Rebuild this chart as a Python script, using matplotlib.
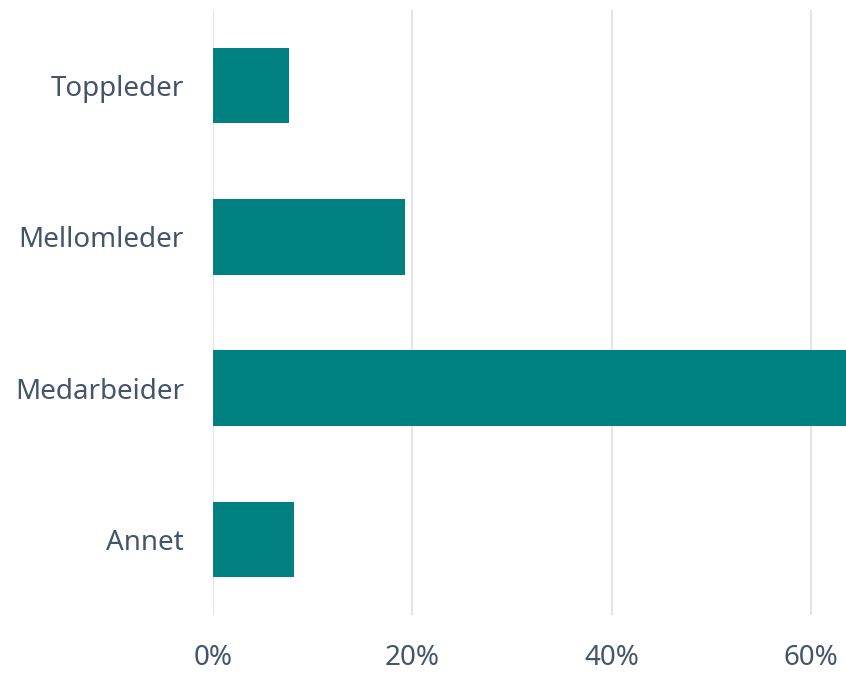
import matplotlib
matplotlib.use("Agg")
import matplotlib.pyplot as plt
from matplotlib.ticker import PercentFormatter

# data
categories = ["Toppleder", "Mellomleder", "Medarbeider", "Annet"]
shares = [7.6, 19.3, 65.0, 8.1]
x_ticks = [0, 20, 40, 60]

TEAL = "#008080"
TEXT = "#44546A"
GRID = "#E1E5EB"

plt.rcParams["font.family"] = ["Noto Sans", "DejaVu Sans"]

fig = plt.figure(figsize=(8.46, 6.73), dpi=100)
W, H = 846, 673
ax = fig.add_axes([213 / W, (H - 615) / H, 1 - 213 / W, 605 / H])

ypos = list(range(len(categories)))
ax.barh(ypos, shares, height=0.5, color=TEAL, zorder=3)

ax.set_ylim(len(categories) - 0.5, -0.5)
ax.set_xlim(0, 63.5)
ax.set_yticks(ypos, categories)
ax.set_xticks(x_ticks)
ax.xaxis.set_major_formatter(PercentFormatter(decimals=0))

ax.grid(axis="x", color=GRID, lw=1.5, zorder=0)
for s in ax.spines.values():
    s.set_visible(False)
ax.tick_params(axis="both", length=0, labelsize=20, colors=TEXT)
ax.tick_params(axis="y", pad=21)
ax.tick_params(axis="x", pad=21)

fig.savefig("out.png", dpi=100)
